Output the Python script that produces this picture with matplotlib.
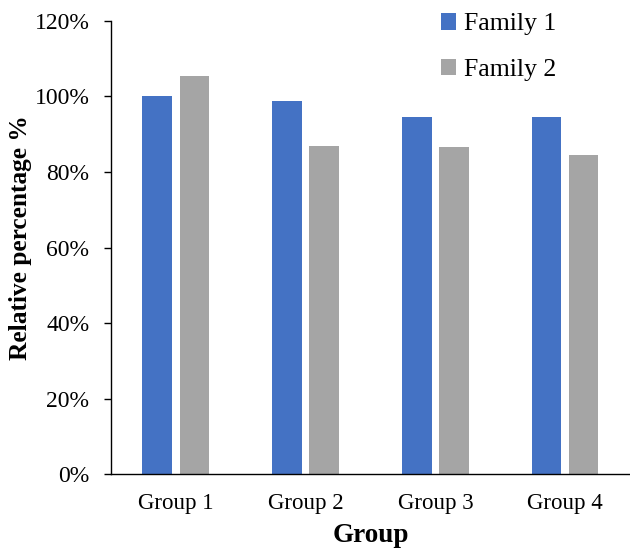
import matplotlib.pyplot as plt
import numpy as np
from matplotlib.ticker import PercentFormatter

plt.rcParams['font.family'] = 'Liberation Serif'

# relative percentages per group
groups = ['Group 1', 'Group 2', 'Group 3', 'Group 4']
family_1 = [100.0, 98.7, 94.7, 94.5]
family_2 = [105.4, 87.0, 86.5, 84.5]

x = np.arange(len(groups))
width = 0.227
offset = 0.143

fig = plt.figure(figsize=(6.3, 5.48), dpi=100)
ax = fig.add_axes([0.176, 0.135, 0.824, 0.8267])

ax.bar(x - offset, family_1, width, color='#4472C4', label='Family 1')
ax.bar(x + offset, family_2, width, color='#A5A5A5', label='Family 2')

ax.set_xlim(-0.5, 3.5)
ax.set_ylim(0, 120)
ax.set_yticks(np.arange(0, 121, 20))
ax.yaxis.set_major_formatter(PercentFormatter(decimals=0))
ax.set_xticks(x)
ax.set_xticklabels(groups)

ax.tick_params(axis='y', labelsize=17, length=5, width=1, direction='out', pad=10.5)
ax.tick_params(axis='x', labelsize=16.5, length=0, pad=13.5)

for side in ['top', 'right']:
    ax.spines[side].set_visible(False)
ax.spines['left'].set_linewidth(1)
ax.spines['bottom'].set_linewidth(1)

ax.set_ylabel('Relative percentage %', fontsize=18.3, fontweight='bold', labelpad=1.5, y=0.522)
ax.set_xlabel('Group', fontsize=19.5, fontweight='bold', labelpad=7)

ax.legend(loc='upper left', bbox_to_anchor=(0.663, 1.018), bbox_transform=fig.transFigure,
          frameon=False, fontsize=18.5, handlelength=0.6, handleheight=0.6,
          handletextpad=0.3, labelspacing=0.9)

fig.savefig('out.png', dpi=100)
